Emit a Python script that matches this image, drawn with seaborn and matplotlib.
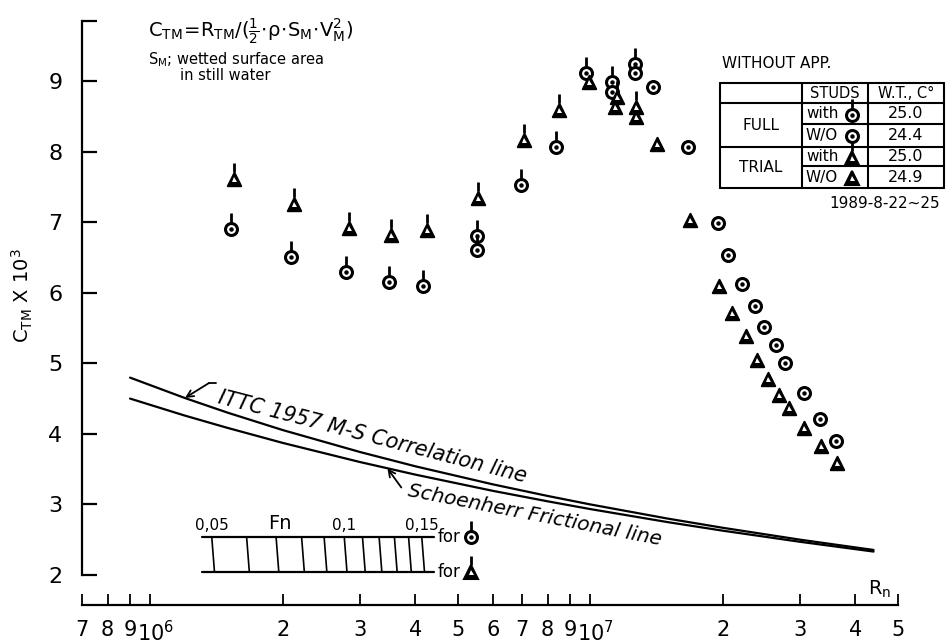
import matplotlib
matplotlib.use("Agg")
import matplotlib.pyplot as plt
from matplotlib.lines import Line2D
from matplotlib.path import Path
from matplotlib.ticker import FixedLocator, FixedFormatter, NullLocator
import seaborn as sns

# ---------------- measured C_TM x 10^3 against Rn ----------------
# full-scale model, with turbulence studs
full_with_rn = [1.53e6, 2.09e6, 2.78e6, 3.48e6, 4.16e6, 5.52e6, 5.52e6,
                6.95e6, 8.35e6, 9.77e6, 1.12e7, 1.26e7]
full_with_ct = [6.90, 6.50, 6.29, 6.15, 6.10, 6.80, 6.61,
                7.52, 8.06, 9.12, 8.98, 9.24]
# full-scale model, without studs
full_wo_rn = [1.12e7, 1.26e7, 1.39e7, 1.67e7, 1.95e7, 2.06e7, 2.21e7,
              2.37e7, 2.48e7, 2.64e7, 2.77e7, 3.06e7, 3.32e7, 3.61e7]
full_wo_ct = [8.85, 9.11, 8.92, 8.07, 6.99, 6.53, 6.13,
              5.81, 5.51, 5.26, 5.00, 4.58, 4.21, 3.90]
# trial condition, with studs
trial_with_rn = [1.55e6, 2.12e6, 2.83e6, 3.52e6, 4.25e6, 5.55e6,
                 7.06e6, 8.48e6, 1.15e7, 1.27e7]
trial_with_ct = [7.61, 7.26, 6.91, 6.82, 6.89, 7.34,
                 8.16, 8.59, 8.78, 8.63]
# trial condition, without studs
trial_wo_rn = [9.92e6, 1.14e7, 1.27e7, 1.42e7, 1.68e7, 1.96e7, 2.10e7,
               2.26e7, 2.39e7, 2.53e7, 2.68e7, 2.83e7, 3.06e7, 3.34e7, 3.63e7]
trial_wo_ct = [8.99, 8.63, 8.49, 8.11, 7.03, 6.10, 5.71,
               5.38, 5.05, 4.78, 4.55, 4.37, 4.09, 3.83, 3.58]

# ---------------- friction lines ----------------
line_rn = [9.0e5, 1.2e6, 1.5e6, 2.0e6, 3.0e6, 4.0e6, 6.0e6, 8.0e6,
           1.0e7, 1.5e7, 2.0e7, 3.0e7, 4.4e7]
ittc_ct = [4.797, 4.507, 4.300, 4.054, 3.742, 3.541, 3.285, 3.120,
           3.000, 2.799, 2.669, 2.500, 2.355]
schoenherr_ct = [4.500, 4.258, 4.084, 3.872, 3.600, 3.423, 3.193, 3.044,
                 2.934, 2.749, 2.628, 2.470, 2.332]

# ---------------- Froude number scale ----------------
fn_ticks = [0.05, 0.06, 0.07, 0.08, 0.09, 0.10, 0.11, 0.12, 0.13, 0.14, 0.15]
fn_tick_labels = ["0,05", "0,1", "0,15"]
fn_labelled = [0.05, 0.10, 0.15]
rn_per_fn_full = 2.76e7
rn_per_fn_trial = 2.80e7

# ---------------- axis ticks ----------------
x_ticks = [7e5, 8e5, 9e5, 1e6, 2e6, 3e6, 4e6, 5e6, 6e6, 7e6, 8e6, 9e6,
           1e7, 2e7, 3e7, 4e7, 5e7]
x_tick_labels = ["7", "8", "9", "", "2", "3", "4", "5", "6", "7",
                 "8", "9", "", "2", "3", "4", "5"]
decade_ticks = [1e6, 1e7]
decade_labels = [r"$\mathregular{10^6}$", r"$\mathregular{10^7}$"]
y_ticks = [2, 3, 4, 5, 6, 7, 8, 9]

# ---------------- test table ----------------
table_groups = ["FULL", "TRIAL"]
table_studs = ["with", "W/O", "with", "W/O"]
table_temps = ["25.0", "24.4", "25.0", "24.9"]
test_dates = "1989-8-22~25"

sns.set_theme(style="white")
plt.rcParams["font.family"] = ["DejaVu Sans"]
plt.rcParams["mathtext.fontset"] = "dejavusans"

W, H = 947, 644
fig = plt.figure(figsize=(W / 100, H / 100), dpi=100)


def fx(x):
    return x / W


def fy(y):
    return 1 - y / H


X0, X1, Y_AX, Y_TOP = 82, 898, 605, 21
ax = fig.add_axes([fx(X0), fy(Y_AX), (X1 - X0) / W, (Y_AX - Y_TOP) / H])
ax.set_xscale("log")
ax.set_xlim(7e5, 5e7)
ax.set_ylim(1.575, 9.85)

for side in ("top", "right"):
    ax.spines[side].set_visible(False)
for side in ("left", "bottom"):
    ax.spines[side].set_color("black")
    ax.spines[side].set_linewidth(1.6)
ax.spines["left"].set_bounds(2, 9.85)

ax.yaxis.set_major_locator(FixedLocator(y_ticks + [9.85]))
ax.yaxis.set_major_formatter(FixedFormatter([str(v) for v in y_ticks] + [""]))
ax.tick_params(axis="y", left=True, direction="in", length=11, width=1.6,
               labelsize=16, pad=14, colors="black")
ax.xaxis.set_major_locator(FixedLocator(x_ticks))
ax.xaxis.set_major_formatter(FixedFormatter(x_tick_labels))
ax.xaxis.set_minor_locator(NullLocator())
ax.tick_params(axis="x", which="major", bottom=True, direction="in", length=8,
               width=1.3, labelsize=15, pad=11, colors="black")
for xv, lab in zip(decade_ticks, decade_labels):
    ax.annotate(lab, xy=(xv, 0), xycoords=("data", "axes fraction"),
                xytext=(4, -11), textcoords="offset points", ha="center",
                va="top", fontsize=15, color="black")
ax.set_ylabel(r"C$_\mathregular{TM}$ X 10$^\mathregular{3}$", fontsize=14,
              color="black")
ax.yaxis.set_label_coords(-0.058, 0.53)
ax.grid(False)

# friction lines
sns.lineplot(x=line_rn, y=ittc_ct, color="black", linewidth=1.6, ax=ax,
             estimator=None, sort=False, legend=False)
sns.lineplot(x=line_rn, y=schoenherr_ct, color="black", linewidth=1.6, ax=ax,
             estimator=None, sort=False, legend=False)

STUD = Path([(0, 0.45), (0, 1.0)], [Path.MOVETO, Path.LINETO])
RING_S, TRI_S = 74, 92


def symbol(target, xs, ys, kind, stud, transform=None):
    """Ring or triangle symbol, optionally with a stud on top."""
    kw = dict(linestyle="none", zorder=5, clip_on=False)
    if transform is not None:
        kw["transform"] = transform
    if kind == "circle":
        arts = [Line2D(xs, ys, marker="o", ms=RING_S ** 0.5, mfc="white",
                       mec="black", mew=2.2, **kw),
                Line2D(xs, ys, marker="o", ms=2.2, color="black", **kw)]
    else:
        arts = [Line2D(xs, ys, marker="^", ms=TRI_S ** 0.5, mfc="black",
                       mec="black", mew=1.5, **kw),
                Line2D(xs, ys, marker="^", ms=3.6, color="white", mew=0, **kw)]
    if stud:
        arts.append(Line2D(xs, ys, marker=STUD, ms=23, mec="black", mew=2.0, **kw))
    for a in arts:
        if transform is None:
            target.add_line(a)
        else:
            target.add_artist(a)


def plot_series(rn, ct, kind, stud):
    if kind == "circle":
        sns.scatterplot(x=rn, y=ct, marker="o", s=RING_S, color="white",
                        edgecolor="black", linewidth=2.2, ax=ax, zorder=4,
                        legend=False)
        ax.plot(rn, ct, linestyle="none", marker="o", ms=2.2, color="black",
                zorder=5)
    else:
        sns.scatterplot(x=rn, y=ct, marker="^", s=TRI_S, color="black",
                        edgecolor="black", linewidth=1.5, ax=ax, zorder=4,
                        legend=False)
        ax.plot(rn, ct, linestyle="none", marker="^", ms=3.6, color="white",
                mew=0, zorder=5)
    if stud:
        ax.plot(rn, ct, linestyle="none", marker=STUD, ms=23, mec="black",
                mew=2.0, zorder=5)


plot_series(full_with_rn, full_with_ct, "circle", True)
plot_series(full_wo_rn, full_wo_ct, "circle", False)
plot_series(trial_with_rn, trial_with_ct, "triangle", True)
plot_series(trial_wo_rn, trial_wo_ct, "triangle", False)

# line captions with leader arrows
ax.annotate("", xy=(1.20e6, 4.51), xytext=(1.36e6, 4.72),
            arrowprops=dict(arrowstyle="->", lw=1.3, color="black",
                            shrinkA=0, shrinkB=0))
ax.plot([1.36e6, 1.41e6], [4.72, 4.72], color="black", lw=1.3)
ax.text(1.42e6, 4.44, "ITTC 1957 M-S Correlation line", rotation=-14.5,
        rotation_mode="anchor", ha="left", va="baseline", fontsize=15,
        style="italic", color="black")
ax.annotate("", xy=(3.46e6, 3.51), xytext=(3.72e6, 3.24),
            arrowprops=dict(arrowstyle="->", lw=1.3, color="black",
                            shrinkA=0, shrinkB=0))
ax.text(3.85e6, 3.19, "Schoenherr Frictional line", rotation=-11,
        rotation_mode="anchor", ha="left", va="center", fontsize=14.5,
        style="italic", color="black")

# Froude number scale
FN_TOP, FN_BOT = 2.54, 2.04
ax.plot([1.31e6, 4.41e6], [FN_TOP, FN_TOP], color="black", lw=1.6)
ax.plot([1.31e6, 4.41e6], [FN_BOT, FN_BOT], color="black", lw=1.6)
for f in fn_ticks:
    ax.plot([f * rn_per_fn_full, f * rn_per_fn_trial], [FN_TOP, FN_BOT],
            color="black", lw=1.2)
for f, lab in zip(fn_labelled, fn_tick_labels):
    ax.text(f * rn_per_fn_full, FN_TOP + 0.06, lab, ha="center",
            va="bottom", fontsize=11, color="black")
ax.text(1.97e6, FN_TOP + 0.06, "Fn", ha="center", va="bottom", fontsize=14,
        color="black")
ax.text(4.50e6, FN_TOP, "for", ha="left", va="center", fontsize=12, color="black")
ax.text(4.50e6, FN_BOT, "for", ha="left", va="center", fontsize=12, color="black")
symbol(ax, [5.35e6], [FN_TOP], "circle", True)
symbol(ax, [5.35e6], [FN_BOT], "triangle", True)

ax.text(4.55e7, 1.79, r"R$_\mathregular{n}$", ha="center", va="center",
        fontsize=14, color="black")

# definition of the coefficient
fig.text(fx(148), fy(32),
         r"$\mathrm{C_{TM}\!=\!R_{TM}/(\frac{1}{2}\!\cdot\!\rho\!\cdot\!S_M\!\cdot\!V_M^2)}$",
         ha="left", va="center", fontsize=14, color="black")
fig.text(fx(148), fy(60), r"S$_\mathregular{M}$; wetted surface area",
         ha="left", va="center", fontsize=10.5, color="black")
fig.text(fx(180), fy(76), "in still water", ha="left", va="center",
         fontsize=10.5, color="black")

# test condition table
fig.text(fx(722), fy(63), "WITHOUT APP.", ha="left", va="center",
         fontsize=11, color="black")
TL, TC1, TC2, TR = 720, 802, 868, 944
rows_y = [83, 103, 124, 147, 166, 188]


def seg(x0, y0, x1, y1, lw=1.5):
    fig.add_artist(Line2D([fx(x0), fx(x1)], [fy(y0), fy(y1)],
                          transform=fig.transFigure, color="black", lw=lw))


for i, y in enumerate(rows_y):
    seg(TC1 if i in (2, 4) else TL, y, TR, y)
for x in (TL, TC1, TC2, TR):
    seg(x, rows_y[0], x, rows_y[-1])

fig.text(fx((TC1 + TC2) / 2), fy(93), "STUDS", ha="center", va="center",
         fontsize=10.5, color="black")
fig.text(fx((TC2 + TR) / 2), fy(93), "W.T., C°", ha="center", va="center",
         fontsize=10.5, color="black")
fig.text(fx((TL + TC1) / 2), fy((rows_y[1] + rows_y[3]) / 2), table_groups[0],
         ha="center", va="center", fontsize=11, color="black")
fig.text(fx((TL + TC1) / 2), fy((rows_y[3] + rows_y[5]) / 2), table_groups[1],
         ha="center", va="center", fontsize=11, color="black")
kinds = ["circle", "circle", "triangle", "triangle"]
for i in range(4):
    yc = (rows_y[i + 1] + rows_y[i + 2]) / 2
    fig.text(fx(806), fy(yc), table_studs[i], ha="left", va="center",
             fontsize=11, color="black")
    symbol(fig, [fx(852)], [fy(yc + 1)], kinds[i], table_studs[i] == "with",
           transform=fig.transFigure)
    fig.text(fx((TC2 + TR) / 2), fy(yc), table_temps[i], ha="center",
             va="center", fontsize=11.5, color="black")
fig.text(fx(940), fy(203), test_dates, ha="right", va="center", fontsize=11,
         color="black")

fig.savefig("out.png", dpi=100, facecolor="white")
